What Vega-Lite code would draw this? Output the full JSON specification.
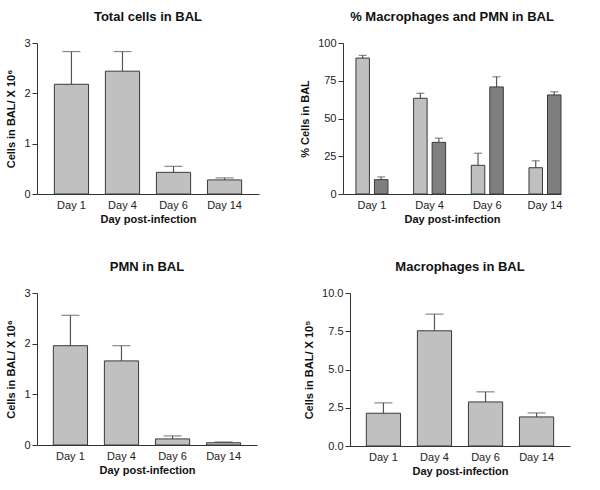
{
  "$schema": "https://vega.github.io/schema/vega-lite/v6.json",
  "background": "white",
  "padding": {"left": 5, "top": 11, "right": 5, "bottom": 5},
  "config": {
    "font": "Liberation Sans",
    "view": {"stroke": null},
    "axis": {"grid": false, "domainColor": "#333", "tickColor": "#333", "labelColor": "#222", "labelFontSize": 11, "titleFontSize": 11, "titleFontWeight": "bold", "titleColor": "#111", "labelFont": "Liberation Sans", "titleFont": "Liberation Sans"},
    "axisX": {"ticks": false, "labelAngle": 0, "labelPadding": 5, "titlePadding": 3},
    "axisY": {"titlePadding": 7, "tickSize": 5, "labelPadding": 2},
    "title": {"fontSize": 13, "fontWeight": "bold", "color": "#111", "offset": 13, "font": "Liberation Sans"}
  },
  "datasets": {
    "total": [
      {"day": "Day 1", "value": 2.18, "upper": 2.83},
      {"day": "Day 4", "value": 2.44, "upper": 2.83},
      {"day": "Day 6", "value": 0.43, "upper": 0.55},
      {"day": "Day 14", "value": 0.28, "upper": 0.32}
    ],
    "pct": [
      {"day": "Day 1", "type": "Macrophages", "value": 90, "upper": 91.8},
      {"day": "Day 1", "type": "PMN", "value": 9.5, "upper": 11.3},
      {"day": "Day 4", "type": "Macrophages", "value": 63.4, "upper": 66.7},
      {"day": "Day 4", "type": "PMN", "value": 34.2, "upper": 37},
      {"day": "Day 6", "type": "Macrophages", "value": 19, "upper": 27},
      {"day": "Day 6", "type": "PMN", "value": 70.9, "upper": 77.6},
      {"day": "Day 14", "type": "Macrophages", "value": 17.4, "upper": 22},
      {"day": "Day 14", "type": "PMN", "value": 65.6, "upper": 67.7}
    ],
    "pmn": [
      {"day": "Day 1", "value": 1.96, "upper": 2.56},
      {"day": "Day 4", "value": 1.66, "upper": 1.96},
      {"day": "Day 6", "value": 0.12, "upper": 0.18},
      {"day": "Day 14", "value": 0.045, "upper": 0.06}
    ],
    "mac": [
      {"day": "Day 1", "value": 2.14, "upper": 2.82},
      {"day": "Day 4", "value": 7.53, "upper": 8.62},
      {"day": "Day 6", "value": 2.88, "upper": 3.54},
      {"day": "Day 14", "value": 1.9, "upper": 2.16}
    ]
  },
  "spacing": 37,
  "vconcat": [
    {
      "spacing": 40,
      "hconcat": [
        {
          "title": "Total cells in BAL",
          "width": 222, "height": 151,
          "data": {"name": "total"},
          "encoding": {
            "x": {"field": "day", "type": "nominal", "sort": ["Day 1", "Day 4", "Day 6", "Day 14"], "title": "Day post-infection", "scale": {"paddingInner": 0.33, "paddingOuter": 0.34}},
            "y": {"field": "value", "type": "quantitative", "title": "Cells in BAL/ X 10⁶", "scale": {"domain": [0, 3], "nice": false}, "axis": {"values": [0, 1, 2, 3]}}
          },
          "layer": [
            {"mark": {"type": "rule", "color": "#555", "strokeWidth": 1.2},
             "encoding": {"y2": {"field": "upper"}}},
            {"mark": {"type": "tick", "color": "#555", "size": 18, "thickness": 1.2},
             "encoding": {"y": {"field": "upper", "type": "quantitative", "title": "Cells in BAL/ X 10⁶", "axis": {"values": [0, 1, 2, 3]}}}},
            {"mark": {"type": "bar", "fill": "#c0c0c0", "stroke": "#3a3a3a", "strokeWidth": 1}}
          ]
        },
        {
          "title": "% Macrophages and PMN in BAL",
          "width": 218, "height": 151,
          "data": {"name": "pct"},
          "encoding": {
            "x": {"field": "day", "type": "nominal", "sort": ["Day 1", "Day 4", "Day 6", "Day 14"], "title": "Day post-infection", "scale": {"paddingInner": 0.445, "paddingOuter": 0.112, "align": 1}},
            "xOffset": {"field": "type", "type": "nominal", "sort": ["Macrophages", "PMN"], "scale": {"paddingInner": 0.27, "paddingOuter": 0}},
            "y": {"field": "value", "type": "quantitative", "title": "% Cells in BAL", "scale": {"domain": [0, 100], "nice": false}, "axis": {"values": [0, 25, 50, 75, 100]}}
          },
          "layer": [
            {"mark": {"type": "rule", "color": "#555", "strokeWidth": 1.2},
             "encoding": {"y2": {"field": "upper"}}},
            {"mark": {"type": "tick", "color": "#555", "size": 8, "thickness": 1.2},
             "encoding": {"y": {"field": "upper", "type": "quantitative", "title": "% Cells in BAL", "axis": {"values": [0, 25, 50, 75, 100]}}}},
            {"mark": {"type": "bar", "stroke": "#3a3a3a", "strokeWidth": 1},
             "encoding": {"fill": {"field": "type", "type": "nominal", "scale": {"domain": ["Macrophages", "PMN"], "range": ["#c0c0c0", "#7f7f7f"]}, "legend": null}}}
          ]
        }
      ]
    },
    {
      "spacing": 46,
      "hconcat": [
        {
          "title": "PMN in BAL",
          "width": 220, "height": 152,
          "data": {"name": "pmn"},
          "encoding": {
            "x": {"field": "day", "type": "nominal", "sort": ["Day 1", "Day 4", "Day 6", "Day 14"], "title": "Day post-infection", "scale": {"paddingInner": 0.33, "paddingOuter": 0.32}},
            "y": {"field": "value", "type": "quantitative", "title": "Cells in BAL/ X 10⁶", "scale": {"domain": [0, 3], "nice": false}, "axis": {"values": [0, 1, 2, 3]}}
          },
          "layer": [
            {"mark": {"type": "rule", "color": "#555", "strokeWidth": 1.2},
             "encoding": {"y2": {"field": "upper"}}},
            {"mark": {"type": "tick", "color": "#555", "size": 18, "thickness": 1.2},
             "encoding": {"y": {"field": "upper", "type": "quantitative", "title": "Cells in BAL/ X 10⁶", "axis": {"values": [0, 1, 2, 3]}}}},
            {"mark": {"type": "bar", "fill": "#c0c0c0", "stroke": "#3a3a3a", "strokeWidth": 1}}
          ]
        },
        {
          "title": "Macrophages in BAL",
          "width": 220, "height": 153,
          "data": {"name": "mac"},
          "encoding": {
            "x": {"field": "day", "type": "nominal", "sort": ["Day 1", "Day 4", "Day 6", "Day 14"], "title": "Day post-infection", "scale": {"paddingInner": 0.33, "paddingOuter": 0.32}},
            "y": {"field": "value", "type": "quantitative", "title": "Cells in BAL/ X 10⁵", "scale": {"domain": [0, 10], "nice": false}, "axis": {"values": [0, 2.5, 5, 7.5, 10], "format": ".1f"}}
          },
          "layer": [
            {"mark": {"type": "rule", "color": "#555", "strokeWidth": 1.2},
             "encoding": {"y2": {"field": "upper"}}},
            {"mark": {"type": "tick", "color": "#555", "size": 18, "thickness": 1.2},
             "encoding": {"y": {"field": "upper", "type": "quantitative", "title": "Cells in BAL/ X 10⁵", "axis": {"values": [0, 2.5, 5, 7.5, 10], "format": ".1f"}}}},
            {"mark": {"type": "bar", "fill": "#c0c0c0", "stroke": "#3a3a3a", "strokeWidth": 1}}
          ]
        }
      ]
    }
  ]
}
